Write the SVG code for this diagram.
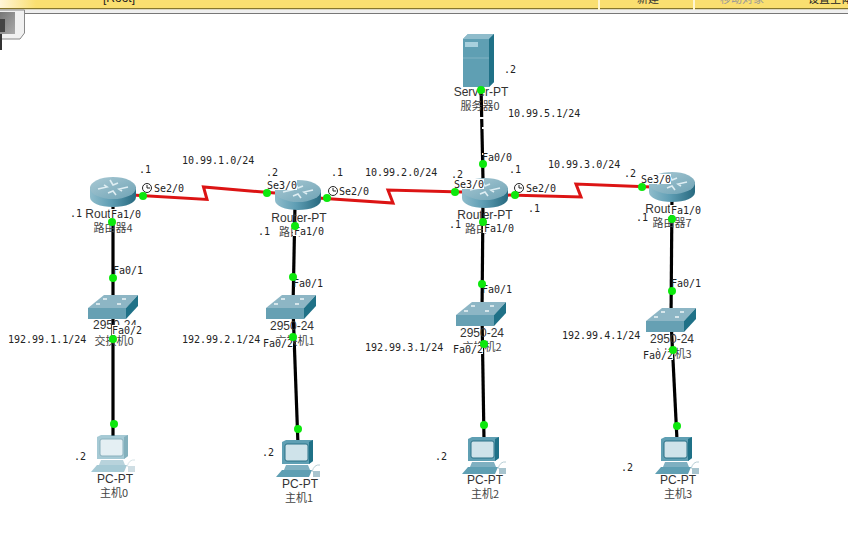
<svg xmlns="http://www.w3.org/2000/svg" width="848" height="551" viewBox="0 0 848 551">
<style>
.m{font-family:"DejaVu Sans Mono","Liberation Mono",monospace;font-size:10px;fill:#222}
.d{font-family:"Liberation Sans",Arial,sans-serif;font-size:12px;fill:#333;text-anchor:middle}
.c{font-family:"Noto Sans CJK SC","Liberation Sans",sans-serif;font-size:11px;fill:#444;text-anchor:middle}
.b{fill:#fff}
.e{fill:none;stroke:#000;stroke-width:3.2}
.s{fill:none;stroke:#dc1414;stroke-width:3}
.l{fill:#0de80d}
.k{fill:#fff;stroke:#222;stroke-width:1}
.k2{fill:none;stroke:#222;stroke-width:1}
</style>
<defs>
<linearGradient id="bar" x1="0" x2="1" y1="0" y2="0"><stop offset="0" stop-color="#fff6d8"/><stop offset="1" stop-color="#fadf70"/></linearGradient>
<linearGradient id="rs" x1="0" x2="1" y1="0" y2="0"><stop offset="0" stop-color="#8fbccb"/><stop offset=".45" stop-color="#5f9eb4"/><stop offset="1" stop-color="#27697f"/></linearGradient>
<linearGradient id="rt" x1="0" x2="1" y1="0" y2="1"><stop offset="0" stop-color="#a9c9d4"/><stop offset="1" stop-color="#6fa3b5"/></linearGradient>
<linearGradient id="tab" x1="0" x2="1" y1="0" y2="1"><stop offset="0" stop-color="#777"/><stop offset="1" stop-color="#aaa"/></linearGradient>
<g id="router">
<path d="M0 10V20C0 26 10 30 23 30S46 26 46 20V10Z" fill="url(#rs)"/>
<ellipse cx="23" cy="11" rx="23" ry="11" fill="url(#rt)"/>
<path d="M8 12L17 10L14 8M38 10L29 12L32 14M20 3L23 8L28 6M26 18L23 14L18 16" fill="none" stroke="#dfeef3" stroke-width="1.6"/>
</g>
<g id="switch">
<path d="M0 13L16 0H50L38 13Z" fill="#8db6c5"/>
<path d="M0 13H38V24H0Z" fill="#66a0b3"/>
<path d="M38 13L50 0V11L38 24Z" fill="#1f7187"/>
<path d="M15 4h4M34 4h4M8 9h4M29 9h4" stroke="#eef6f8" stroke-width="1.6"/>
</g>
<g id="pc">
<path d="M6 2L10 0H37V21L33 24H6Z" fill="#5f9fb3"/>
<path d="M33 2L37 0V21L33 24Z" fill="#1f7187"/>
<rect x="9" y="4" width="23" height="17" rx="2" fill="#cfe3ea" stroke="#2c7288"/>
<path d="M10 25H32L34 30H8Z" fill="#7fb0c1"/>
<path d="M6 30H36L33 37H0Z" fill="#5f9fb3"/>
<path d="M36 32Q38 24 44 25" fill="none" stroke="#b9cfd6"/>
<path d="M37 31h7v6h-7z" fill="#a8c4ce"/>
</g>
<g id="server">
<path d="M0 5L5 0H31V48L26 53H0Z" fill="#5f9fb3"/>
<path d="M0 5L5 0H31L26 5Z" fill="#8fbccb"/>
<path d="M26 5L31 0V48L26 53Z" fill="#1f7187"/>
<rect x="2" y="8" width="13" height="5" fill="#a8d0dd"/>
<path d="M0 24H26" stroke="#82b3c3"/>
</g>
</defs>

<g id="toolbar">
<rect width="848" height="9" fill="#fadf70"/>
<rect width="36" height="9" fill="url(#bar)"/>
<rect y="8" width="848" height="1.500" fill="#85762c"/>
<rect y="9.500" width="848" height="3.500" fill="#efefef"/>
<rect y="13" width="848" height="1" fill="#777"/>
<rect x="598" width="2" height="10" fill="#fff6d0"/>
<rect x="693" width="2" height="10" fill="#fff6d0"/>
<text x="103" y="2" font-family="Liberation Sans,sans-serif" font-size="12" fill="#222">[Root]</text>
<text x="637" y="3" font-family="Noto Sans CJK SC,sans-serif" font-size="11" fill="#333">新建</text>
<text x="720" y="3" font-family="Noto Sans CJK SC,sans-serif" font-size="11" fill="#999">移动对象</text>
<text x="808" y="3" font-family="Noto Sans CJK SC,sans-serif" font-size="11" fill="#222">设置主体</text>
<path d="M-1 10H24.500V33L20 39H-1Z" fill="#f1f1f1" stroke="#888"/>
<rect x="0" y="12" width="15" height="22" fill="url(#tab)"/>
<rect x="0" y="19" width="5" height="13" fill="#444"/>
<rect x="0" y="34" width="2" height="16" fill="#333"/>
</g>

<g id="connectors">
<path class="e" d="M481 85L483 180"/>
<path d="M480 118h4M482 128h3M482 154h4" stroke="#fff" stroke-width="2"/>
<path class="e" d="M113 200V308"/>
<path class="e" d="M113 308V436"/>
<path class="e" d="M295 205L293 308"/>
<path class="e" d="M293 308L298 445"/>
<path class="e" d="M483 200L482 314"/>
<path class="e" d="M482 314L484 440"/>
<path class="e" d="M672 195L671 320"/>
<path class="e" d="M671 320L677 440"/>
<path class="s" d="M132 195L207 199.500L203.500 187L275 193"/>
<path class="s" d="M318 198L393 203L388 190L462 192"/>
<path class="s" d="M505 195L581 197L576 184L652 187"/>
</g>

<g id="pc0"><use href="#pc" x="91" y="435" opacity=".55"/><text class="d" x="115" y="483">PC-PT</text><text class="c" x="114" y="497">主机0</text><text class="m" x="74" y="460">.2</text></g>
<g id="pc1"><use href="#pc" x="276" y="440"/><text class="d" x="300" y="488">PC-PT</text><text class="c" x="299" y="502">主机1</text><text class="m" x="262" y="456">.2</text></g>
<g id="pc2"><use href="#pc" x="462" y="437"/><text class="d" x="485" y="484">PC-PT</text><text class="c" x="485" y="498">主机2</text><text class="m" x="435" y="460">.2</text></g>
<g id="pc3"><use href="#pc" x="655" y="437"/><text class="d" x="678" y="484">PC-PT</text><text class="c" x="678" y="498">主机3</text><text class="m" x="621" y="471">.2</text></g>

<g id="server0"><use href="#server" x="463" y="34"/><text class="d" x="481" y="96">Server-PT</text><text class="c" x="480" y="110">服务器0</text><text class="m" x="504" y="73">.2</text><text class="m" x="508" y="117">10.99.5.1/24</text></g>

<g id="switch0"><use href="#switch" x="88" y="295"/><text class="d" x="115" y="329">2950-24</text><text class="c" x="114" y="345">交换机0</text><text class="m" x="8" y="343">192.99.1.1/24</text></g>
<g id="switch1"><use href="#switch" x="266" y="295"/><text class="d" x="292" y="330">2950-24</text><text class="c" x="295" y="345">交换机1</text><text class="m" x="182" y="343">192.99.2.1/24</text></g>
<g id="switch2"><use href="#switch" x="456" y="302"/><text class="d" x="482" y="337">2950-24</text><text class="c" x="482" y="351">交换机2</text><text class="m" x="365" y="351">192.99.3.1/24</text></g>
<g id="switch3"><use href="#switch" x="646" y="308"/><text class="d" x="672" y="343">2950-24</text><text class="c" x="672" y="358">交换机3</text><text class="m" x="562" y="339">192.99.4.1/24</text></g>

<g id="router4"><use href="#router" x="90" y="177"/><text class="d" x="98" y="218">Rout</text><text class="c" x="113" y="232">路由器4</text><text class="m" x="70" y="217">.1</text><text class="m" x="139" y="173">.1</text></g>
<g id="router1"><use href="#router" x="275" y="180"/><text class="d" x="299" y="222">Router-PT</text><text class="c" x="290" y="236">路由</text><text class="m" x="258" y="235">.1</text><text class="m" x="266" y="176">.2</text><text class="m" x="331" y="176">.1</text></g>
<g id="router2"><use href="#router" x="462" y="178"/><text class="d" x="485" y="219">Router-PT</text><text class="c" x="476" y="233">路由</text><text class="m" x="449" y="228">.1</text><text class="m" x="451" y="178">.2</text><text class="m" x="509" y="173">.1</text><text class="m" x="528" y="212">.1</text></g>
<g id="router7"><use href="#router" x="649" y="172"/><text class="d" x="658" y="213">Rout</text><text class="c" x="672" y="227">路由器7</text><text class="m" x="636" y="221">.1</text><text class="m" x="624" y="177">.2</text></g>

<g id="network-labels">
<text class="m" x="182" y="164">10.99.1.0/24</text>
<text class="m" x="365" y="176">10.99.2.0/24</text>
<text class="m" x="548" y="168">10.99.3.0/24</text>
</g>

<g id="port-labels">
<g><rect class="b" x="110" y="209" width="32" height="10"/><text class="m" x="111" y="218">Fa1/0</text></g>
<g><rect class="b" x="293" y="226" width="32" height="10"/><text class="m" x="294" y="235">Fa1/0</text></g>
<g><rect class="b" x="483" y="223" width="32" height="10"/><text class="m" x="484" y="232">Fa1/0</text></g>
<g><rect class="b" x="670" y="205" width="32" height="10"/><text class="m" x="671" y="214">Fa1/0</text></g>
<text class="m" x="113" y="274">Fa0/1</text>
<text class="m" x="293" y="287">Fa0/1</text>
<text class="m" x="482" y="293">Fa0/1</text>
<text class="m" x="671" y="287">Fa0/1</text>
<g><rect class="b" x="112" y="325" width="31" height="10"/><text class="m" x="112" y="334">Fa0/2</text></g>
<g><rect class="b" x="262" y="338" width="31" height="10"/><text class="m" x="263" y="347">Fa0/2</text></g>
<g><rect class="b" x="452" y="344" width="31" height="10"/><text class="m" x="453" y="353">Fa0/2</text></g>
<g><rect class="b" x="642" y="350" width="31" height="10"/><text class="m" x="643" y="359">Fa0/2</text></g>
<text class="m" x="482" y="161">Fa0/0</text>
<text class="m" x="154" y="192">Se2/0</text>
<text class="m" x="339" y="195">Se2/0</text>
<text class="m" x="526" y="192">Se2/0</text>
<g><rect class="b" x="266" y="180" width="31" height="10"/><text class="m" x="267" y="189">Se3/0</text></g>
<g><rect class="b" x="453" y="179" width="31" height="10"/><text class="m" x="454" y="188">Se3/0</text></g>
<g><rect class="b" x="640" y="174" width="31" height="10"/><text class="m" x="641" y="183">Se3/0</text></g>
<g id="clocks">
<circle class="k" cx="147" cy="188" r="4.500"/><path class="k2" d="M147 185v3h3"/>
<circle class="k" cx="333" cy="191" r="4.500"/><path class="k2" d="M333 188v3h3"/>
<circle class="k" cx="519" cy="188" r="4.500"/><path class="k2" d="M519 185v3h3"/>
</g>
</g>

<g id="link-lights">
<circle class="l" cx="143" cy="196" r="4"/><circle class="l" cx="267" cy="193" r="4"/>
<circle class="l" cx="327" cy="198" r="4"/><circle class="l" cx="455" cy="192" r="4"/>
<circle class="l" cx="515" cy="195" r="4"/><circle class="l" cx="642" cy="187" r="4"/>
<circle class="l" cx="481" cy="90" r="4"/><circle class="l" cx="483" cy="164" r="4"/>
<circle class="l" cx="112" cy="222" r="4"/><circle class="l" cx="113" cy="278" r="4"/><circle class="l" cx="113" cy="339" r="4"/><circle class="l" cx="114" cy="424" r="4"/>
<circle class="l" cx="295" cy="226" r="4"/><circle class="l" cx="293" cy="277" r="4"/><circle class="l" cx="293" cy="337" r="4"/><circle class="l" cx="298" cy="429" r="4"/>
<circle class="l" cx="483" cy="222" r="4"/><circle class="l" cx="482" cy="284" r="4"/><circle class="l" cx="484" cy="344" r="4"/><circle class="l" cx="484" cy="425" r="4"/>
<circle class="l" cx="672" cy="219" r="4"/><circle class="l" cx="672" cy="291" r="4"/><circle class="l" cx="673" cy="350" r="4"/><circle class="l" cx="677" cy="426" r="4"/>
</g>
</svg>
